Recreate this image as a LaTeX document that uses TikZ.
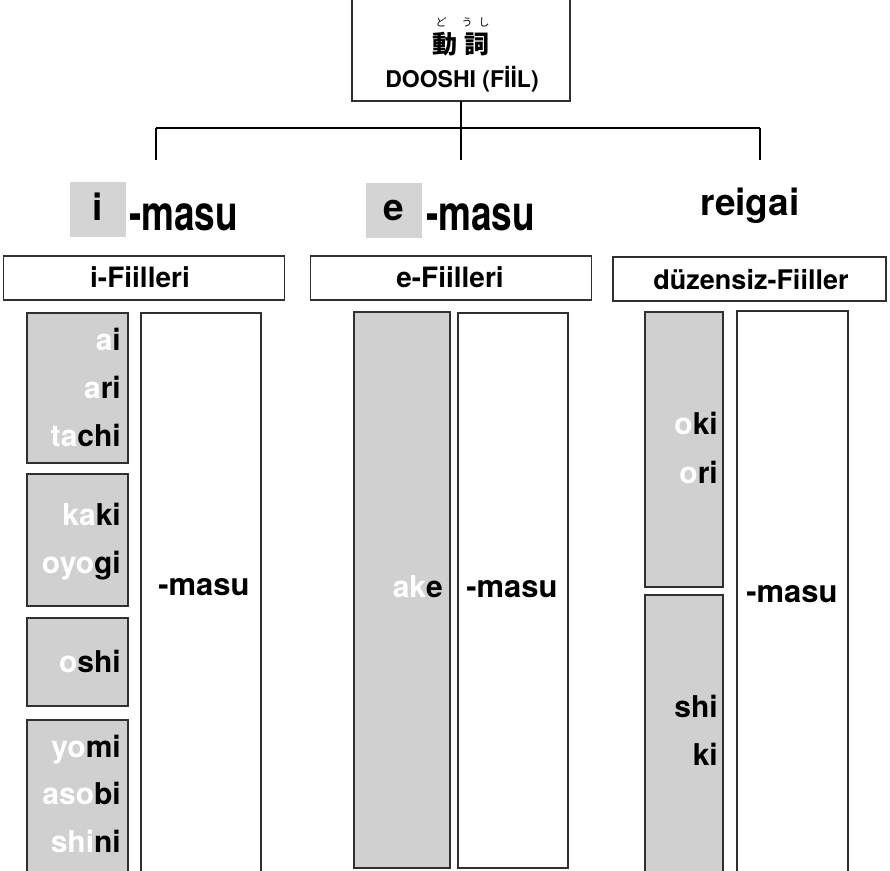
\documentclass[tikz,border=0pt]{standalone}
\usepackage{fontspec}
\usepackage{graphicx}
\setmainfont{TeX Gyre Heros}
\newfontfamily\jpfont{Noto Sans CJK JP}
\definecolor{cellgrey}{HTML}{D0D0D0}
\definecolor{headgrey}{HTML}{D4D4D4}
\definecolor{edge}{HTML}{303030}
\newcommand{\fs}[1]{\fontsize{#1}{#1}\selectfont}
\newcommand{\stem}[1]{\textcolor{white}{#1}}
\begin{document}
\begin{tikzpicture}[x=1pt,y=-1pt,
  cell/.style={draw=edge, line width=1.1pt, inner sep=0pt, outer sep=0pt},
  greycell/.style={cell, fill=cellgrey},
  whitecell/.style={cell, fill=white},
  headbox/.style={fill=headgrey, inner sep=0pt, outer sep=0pt},
  wire/.style={draw=black, line width=2pt},
  word/.style={font=\bfseries\fs{30}, inner sep=0pt, anchor=base east},
  suffix/.style={font=\bfseries\fs{31}, inner sep=0pt, anchor=base},
  catlabel/.style={font=\bfseries\fs{28}, inner sep=0pt, anchor=base},
  headword/.style={font=\bfseries\fs{37}, inner sep=0pt},
]
\useasboundingbox (0,0) rectangle (890,870);
\clip (0,0) rectangle (890,870);

% root box
\node[whitecell, minimum width=218pt, minimum height=104pt] (root) at (461,49) {};
\node[font=\jpfont\fs{11}, inner sep=0pt] (r1) at (441,22) {ど};
\node[font=\jpfont\fs{11}, inner sep=0pt] (r2) at (467,22) {う};
\node[font=\jpfont\fs{11}, inner sep=0pt] (r3) at (484,22) {し};
\node[font=\jpfont\bfseries\fs{25}, inner sep=0pt] (k1) at (445,44) {動};
\node[font=\jpfont\bfseries\fs{25}, inner sep=0pt] (k2) at (477,44) {詞};
\node[font=\bfseries\fs{23}, inner sep=0pt, anchor=base] (doshi) at (462,87) {DOOSHI (FİİL)};

% branching connector
\coordinate (hub) at (461,128);
\coordinate (hubl) at (156,128);
\coordinate (hubr) at (760,128);
\coordinate (dropl) at (156,160);
\coordinate (dropm) at (461,160);
\coordinate (dropr) at (760,160);
\draw[wire] (root.south) -- (dropm);
\draw[wire] (hubl) -- (hubr);
\draw[wire] (hubl) -- (dropl);
\draw[wire] (hubr) -- (dropr);

% group headings
\node[headbox, minimum width=56pt, minimum height=55pt] (hi) at (98,209.5) {};
\node[headword, anchor=base] (hit) at (98,220) {i};
\node[headword, anchor=base west] (him) at (129,230) {\scalebox{1}[1.32]{-masu}};
\node[headbox, minimum width=56pt, minimum height=55pt] (he) at (394,210.5) {};
\node[headword, anchor=base] (het) at (394,220) {e};
\node[headword, anchor=base west] (hem) at (426,230) {\scalebox{1}[1.32]{-masu}};
\node[headword, anchor=base] (hr) at (750,215) {reigai};

% category boxes
\node[whitecell, minimum width=281pt, minimum height=44pt] (ci) at (144,278) {};
\node[catlabel] at (140,287) {i-Fiilleri};
\node[whitecell, minimum width=281pt, minimum height=44pt] (ce) at (451,278) {};
\node[catlabel] at (450,287) {e-Fiilleri};
\node[whitecell, minimum width=273pt, minimum height=44pt] (cd) at (749.5,279) {};
\node[catlabel, font=\bfseries\fs{27}] at (751,289) {düzensiz-Fiiller};

% i-verbs
\node[greycell, minimum width=101pt, minimum height=150pt] (g1) at (77.5,388) {};
\node[greycell, minimum width=101pt, minimum height=132pt] (g2) at (77.5,540) {};
\node[greycell, minimum width=101pt, minimum height=88pt] (g3) at (77.5,662) {};
\node[greycell, minimum width=101pt, minimum height=160pt] (g4) at (77.5,800) {};
\node[whitecell, minimum width=120pt, minimum height=567pt] (wi) at (201,596.5) {};
\node[word] at (121,350) {\stem{a}i};
\node[word] at (121,398) {\stem{a}ri};
\node[word] at (121,446) {\stem{ta}chi};
\node[word] at (121,525) {\stem{ka}ki};
\node[word] at (121,573) {\stem{oyo}gi};
\node[word] at (121,672) {\stem{o}shi};
\node[word] at (121,757) {\stem{yo}mi};
\node[word] at (121,804) {\stem{aso}bi};
\node[word] at (121,852) {\stem{shi}ni};
\node[suffix] at (204,595) {-masu};

% e-verbs
\node[greycell, minimum width=96pt, minimum height=556pt] (ge) at (402,590) {};
\node[whitecell, minimum width=110pt, minimum height=555pt] (we) at (513,590.5) {};
\node[word] at (443,597) {\stem{ak}e};
\node[suffix] at (512,597) {-masu};

% irregular verbs
\node[greycell, minimum width=78pt, minimum height=275pt] (gr1) at (684,449.5) {};
\node[greycell, minimum width=78pt, minimum height=285pt] (gr2) at (684,737.5) {};
\node[whitecell, minimum width=111pt, minimum height=569pt] (wr) at (792.5,595.5) {};
\node[word] at (718,434) {\stem{o}ki};
\node[word] at (718,483) {\stem{o}ri};
\node[word] at (718,717) {shi};
\node[word] at (718,765) {ki};
\node[suffix] at (792,602) {-masu};
\end{tikzpicture}
\end{document}
